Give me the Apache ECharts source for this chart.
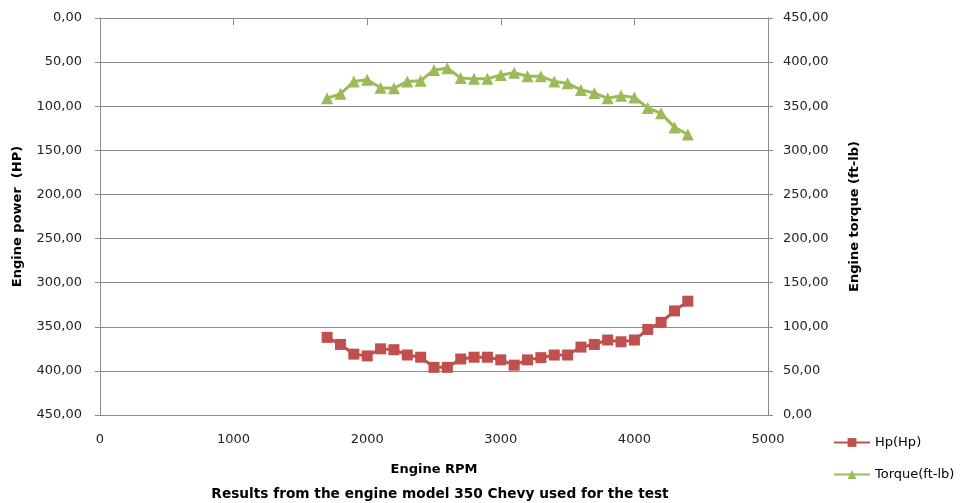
<!DOCTYPE html>
<html>
<head>
<meta charset="utf-8">
<script src="https://cdn.jsdelivr.net/npm/echarts@6/dist/echarts.min.js"></script>
<style>
html,body{margin:0;padding:0;background:#fff;}
#c{width:965px;height:503px;}
</style>
</head>
<body>
<div id="c"></div>
<script>
var rpm = [1700,1800,1900,2000,2100,2200,2300,2400,2500,2600,2700,2800,2900,3000,3100,3200,3300,3400,3500,3600,3700,3800,3900,4000,4100,4200,4300,4400];
var hp = [362,370,381,383,375,376,382,384.5,396,396,386.5,384.5,384.5,387.5,393.5,387.5,385,382,382,373,370,365,367,365,353,345,332,321];
var torque = [359,364,378,380,371,370.5,378,379,391,393,382,381,381,385.5,388,384,384,378,376,368.5,365,359,362,360,348,342,326,318];
var yTicks = [0,50,100,150,200,250,300,350,400,450];
var xTicks = [0,1000,2000,3000,4000,5000];

function fmt(v){ return v.toFixed(2).replace('.', ','); }
var FONT = 'DejaVu Sans';
var chart = echarts.init(document.getElementById('c'), null, {renderer:'canvas'});
chart.setOption({
  animation:false,
  backgroundColor:'#fff',
  title:{
    text:'Results from the engine model 350 Chevy used for the test',
    left:435, top:482, textAlign:'center',
    textStyle:{fontFamily:FONT,fontSize:13.7,fontWeight:'bold',color:'#000'}
  },
  legend:{
    orient:'vertical', left:828, top:431,
    itemWidth:36, itemHeight:11, itemGap:19,
    textStyle:{fontFamily:FONT,fontSize:13,color:'#000'},
    data:['Hp(Hp)','Torque(ft-lb)']
  },
  grid:{left:100,right:197,top:18,bottom:88,containLabel:false},
  xAxis:{
    type:'value', min:xTicks[0], max:xTicks[xTicks.length-1], interval:1000,
    name:'Engine RPM', nameLocation:'middle', nameGap:48,
    nameTextStyle:{fontFamily:FONT,fontSize:13,fontWeight:'bold',color:'#000'},
    axisLine:{lineStyle:{color:'#8c8c8c',width:1}},
    axisTick:{show:true,length:7,lineStyle:{color:'#8c8c8c'}},
    axisLabel:{fontFamily:FONT,fontSize:13,color:'#222',margin:18,formatter:function(v){return String(v);}},
    splitLine:{show:false}
  },
  yAxis:[{
    type:'value', inverse:true, min:yTicks[0], max:yTicks[yTicks.length-1], interval:50,
    position:'left',
    name:'Engine power  (HP)', nameLocation:'middle', nameGap:76, nameRotate:90,
    nameTextStyle:{fontFamily:FONT,fontSize:13,fontWeight:'bold',color:'#000'},
    axisLine:{show:true,lineStyle:{color:'#8c8c8c',width:1}},
    axisTick:{show:true,length:5,lineStyle:{color:'#8c8c8c'}},
    axisLabel:{fontFamily:FONT,fontSize:13,color:'#222',margin:18,formatter:fmt},
    splitLine:{show:true,lineStyle:{color:'#8c8c8c',width:1}}
  },{
    type:'value', min:yTicks[0], max:yTicks[yTicks.length-1], interval:50,
    position:'right',
    name:'Engine torque (ft-lb)', nameLocation:'middle', nameGap:80, nameRotate:90,
    nameTextStyle:{fontFamily:FONT,fontSize:13,fontWeight:'bold',color:'#000'},
    axisLine:{show:true,lineStyle:{color:'#8c8c8c',width:1}},
    axisTick:{show:true,length:5,lineStyle:{color:'#8c8c8c'}},
    axisLabel:{fontFamily:FONT,fontSize:13,color:'#222',margin:15,formatter:fmt},
    splitLine:{show:false}
  }],
  series:[{
    name:'Hp(Hp)', type:'line', yAxisIndex:0,
    data:rpm.map(function(r,i){return [r,hp[i]];}),
    symbol:'rect', symbolSize:11,
    lineStyle:{color:'#C0504D',width:3},
    itemStyle:{color:'#C0504D'}
  },{
    name:'Torque(ft-lb)', type:'line', yAxisIndex:1,
    data:rpm.map(function(r,i){return [r,torque[i]];}),
    symbol:'triangle', symbolSize:12,
    lineStyle:{color:'#9BBB59',width:3},
    itemStyle:{color:'#9BBB59'}
  }]
});
</script>
</body>
</html>
